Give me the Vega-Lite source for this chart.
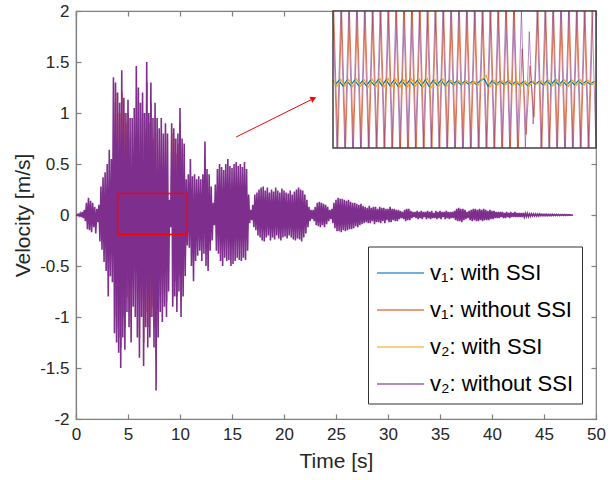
{
"$schema":"https://vega.github.io/schema/vega-lite/v6.json",
"width":520,"height":408,
"autosize":"none",
"padding":{"left":76,"top":11,"right":15,"bottom":61},
"background":"white",
"config":{
"font":"Liberation Sans",
"view":{"stroke":"#7f7f7f","strokeWidth":1.2},
"axis":{"labelFont":"Liberation Sans","labelFontSize":17,"labelColor":"#262626","titleFont":"Liberation Sans","titleFontSize":21,"titleFontWeight":"normal","titleColor":"#262626","domainColor":"#7f7f7f","tickColor":"#7f7f7f","domainWidth":1.2,"tickWidth":1.2,"grid":false,"tickSize":-5,"labelPadding":12,"labelFlush":false},
"legend":{"padding":8,"rowPadding":7,"fillColor":"white","strokeColor":"#333333","labelFontSize":22,"labelColor":"#000000","labelFont":"Liberation Sans","labelOffset":17,"symbolStrokeWidth":1.5,"symbolSize":1225,"labelLimit":0}
},
"datasets":{
"p":[{"t":0,"v":0},{"t":0.1,"v":-0.005},{"t":0.2,"v":0.008},{"t":0.3,"v":-0.01},{"t":0.4,"v":0.015},{"t":0.5,"v":-0.02},{"t":0.6,"v":0.03},{"t":0.7,"v":-0.03},{"t":0.8,"v":0.05},{"t":0.9,"v":-0.06},
{"t":1.0,"v":0.12},{"t":1.1,"v":-0.14},{"t":1.2,"v":0.17},{"t":1.3,"v":-0.15},{"t":1.4,"v":0.14},{"t":1.5,"v":-0.17},{"t":1.6,"v":0.12},{"t":1.7,"v":-0.12},{"t":1.8,"v":0.08},{"t":1.9,"v":-0.18},
{"t":2.0,"v":0.06},{"t":2.1,"v":-0.07},{"t":2.2,"v":0.1},{"t":2.3,"v":-0.26},{"t":2.4,"v":0.28},{"t":2.5,"v":-0.34},{"t":2.6,"v":0.37},{"t":2.7,"v":-0.46},{"t":2.8,"v":0.42},{"t":2.9,"v":-0.55},
{"t":3.0,"v":0.5},{"t":3.1,"v":-0.8},{"t":3.2,"v":0.64},{"t":3.3,"v":-0.6},{"t":3.4,"v":0.55},{"t":3.5,"v":-0.66},{"t":3.6,"v":1.35},{"t":3.7,"v":-1.16},{"t":3.8,"v":1.3},{"t":3.9,"v":-1.25},
{"t":4.0,"v":1.2},{"t":4.1,"v":-1.35},{"t":4.2,"v":1.1},{"t":4.3,"v":-1.5},{"t":4.4,"v":1.42},{"t":4.5,"v":-1.2},{"t":4.6,"v":1.15},{"t":4.7,"v":-1.32},{"t":4.8,"v":1.0},{"t":4.9,"v":-0.95},
{"t":5.0,"v":1.13},{"t":5.1,"v":-1.1},{"t":5.2,"v":0.95},{"t":5.3,"v":-1.25},{"t":5.4,"v":0.95},{"t":5.5,"v":-0.9},{"t":5.6,"v":1.05},{"t":5.7,"v":-1.0},{"t":5.8,"v":1.46},{"t":5.9,"v":-1.2},
{"t":6.0,"v":1.25},{"t":6.1,"v":-1.4},{"t":6.2,"v":1.1},{"t":6.3,"v":-1.0},{"t":6.4,"v":1.2},{"t":6.5,"v":-1.48},{"t":6.6,"v":1.0},{"t":6.7,"v":-1.1},{"t":6.8,"v":1.5},{"t":6.9,"v":-1.3},
{"t":7.0,"v":1.0},{"t":7.1,"v":-1.2},{"t":7.2,"v":1.3},{"t":7.3,"v":-1.0},{"t":7.4,"v":0.95},{"t":7.5,"v":-1.3},{"t":7.6,"v":1.1},{"t":7.7,"v":-1.72},{"t":7.8,"v":0.95},{"t":7.9,"v":-1.2},
{"t":8.0,"v":0.85},{"t":8.1,"v":-0.95},{"t":8.2,"v":0.95},{"t":8.3,"v":-1.05},{"t":8.4,"v":0.8},{"t":8.5,"v":-0.9},{"t":8.6,"v":0.9},{"t":8.7,"v":-1.0},{"t":8.8,"v":0.8},{"t":8.9,"v":-0.75},
{"t":9.0,"v":0.15},{"t":9.1,"v":-0.12},{"t":9.2,"v":0.9},{"t":9.3,"v":-0.9},{"t":9.4,"v":0.85},{"t":9.5,"v":-0.8},{"t":9.6,"v":0.75},{"t":9.7,"v":-0.95},{"t":9.8,"v":0.8},{"t":9.9,"v":-0.75},
{"t":10.0,"v":1.05},{"t":10.1,"v":-1.0},{"t":10.2,"v":0.75},{"t":10.3,"v":-0.8},{"t":10.4,"v":0.7},{"t":10.5,"v":-0.6},{"t":10.6,"v":0.35},{"t":10.7,"v":-0.3},{"t":10.8,"v":0.4},{"t":10.9,"v":-0.32},
{"t":11.0,"v":0.55},{"t":11.1,"v":-0.5},{"t":11.2,"v":0.38},{"t":11.3,"v":-0.65},{"t":11.4,"v":0.4},{"t":11.5,"v":-0.45},{"t":11.6,"v":0.35},{"t":11.7,"v":-0.4},{"t":11.8,"v":0.38},{"t":11.9,"v":-0.35},
{"t":12.0,"v":0.35},{"t":12.1,"v":-0.45},{"t":12.2,"v":0.4},{"t":12.3,"v":-0.38},{"t":12.4,"v":0.72},{"t":12.5,"v":-0.5},{"t":12.6,"v":0.45},{"t":12.7,"v":-0.55},{"t":12.8,"v":0.4},{"t":12.9,"v":-0.35},
{"t":13.0,"v":0.28},{"t":13.1,"v":-0.25},{"t":13.2,"v":0.12},{"t":13.3,"v":-0.1},{"t":13.4,"v":0.3},{"t":13.5,"v":-0.35},{"t":13.6,"v":0.45},{"t":13.7,"v":-0.38},{"t":13.8,"v":0.5},{"t":13.9,"v":-0.45},
{"t":14.0,"v":0.47},{"t":14.1,"v":-0.5},{"t":14.2,"v":0.44},{"t":14.3,"v":-0.42},{"t":14.4,"v":0.5},{"t":14.5,"v":-0.45},{"t":14.6,"v":0.55},{"t":14.7,"v":-0.44},{"t":14.8,"v":0.48},{"t":14.9,"v":-0.5},
{"t":15.0,"v":0.46},{"t":15.1,"v":-0.48},{"t":15.2,"v":0.5},{"t":15.3,"v":-0.45},{"t":15.4,"v":0.52},{"t":15.5,"v":-0.42},{"t":15.6,"v":0.48},{"t":15.7,"v":-0.44},{"t":15.8,"v":0.5},{"t":15.9,"v":-0.45},
{"t":16.0,"v":0.47},{"t":16.1,"v":-0.42},{"t":16.2,"v":0.52},{"t":16.3,"v":-0.44},{"t":16.4,"v":0.45},{"t":16.5,"v":-0.35},{"t":16.6,"v":0.2},{"t":16.7,"v":-0.08},{"t":16.8,"v":0.05},{"t":16.9,"v":-0.05},
{"t":17.0,"v":0.1},{"t":17.1,"v":-0.12},{"t":17.2,"v":0.2},{"t":17.3,"v":-0.15},{"t":17.4,"v":0.22},{"t":17.5,"v":-0.2},{"t":17.6,"v":0.25},{"t":17.7,"v":-0.22},{"t":17.8,"v":0.27},{"t":17.9,"v":-0.25},
{"t":18.0,"v":0.28},{"t":18.1,"v":-0.26},{"t":18.2,"v":0.24},{"t":18.3,"v":-0.22},{"t":18.4,"v":0.27},{"t":18.5,"v":-0.2},{"t":18.6,"v":0.22},{"t":18.7,"v":-0.25},{"t":18.8,"v":0.25},{"t":18.9,"v":-0.22},
{"t":19.0,"v":0.23},{"t":19.1,"v":-0.24},{"t":19.2,"v":0.27},{"t":19.3,"v":-0.2},{"t":19.4,"v":0.24},{"t":19.5,"v":-0.23},{"t":19.6,"v":0.22},{"t":19.7,"v":-0.25},{"t":19.8,"v":0.26},{"t":19.9,"v":-0.22},
{"t":20.0,"v":0.24},{"t":20.1,"v":-0.21},{"t":20.2,"v":0.22},{"t":20.3,"v":-0.23},{"t":20.4,"v":0.21},{"t":20.5,"v":-0.2},{"t":20.6,"v":0.24},{"t":20.7,"v":-0.22},{"t":20.8,"v":0.2},{"t":20.9,"v":-0.24},
{"t":21.0,"v":0.23},{"t":21.1,"v":-0.25},{"t":21.2,"v":0.25},{"t":21.3,"v":-0.23},{"t":21.4,"v":0.27},{"t":21.5,"v":-0.24},{"t":21.6,"v":0.25},{"t":21.7,"v":-0.26},{"t":21.8,"v":0.24},{"t":21.9,"v":-0.22},
{"t":22.0,"v":0.2},{"t":22.1,"v":-0.18},{"t":22.2,"v":0.15},{"t":22.3,"v":-0.12},{"t":22.4,"v":0.08},{"t":22.5,"v":-0.06},{"t":22.6,"v":0.05},{"t":22.7,"v":-0.04},{"t":22.8,"v":0.05},{"t":22.9,"v":-0.06},
{"t":23.0,"v":0.08},{"t":23.1,"v":-0.1},{"t":23.2,"v":0.12},{"t":23.3,"v":-0.11},{"t":23.4,"v":0.13},{"t":23.5,"v":-0.12},{"t":23.6,"v":0.12},{"t":23.7,"v":-0.1},{"t":23.8,"v":0.11},{"t":23.9,"v":-0.12},
{"t":24.0,"v":0.1},{"t":24.1,"v":-0.09},{"t":24.2,"v":0.08},{"t":24.3,"v":-0.06},{"t":24.4,"v":0.05},{"t":24.5,"v":-0.04},{"t":24.6,"v":0.06},{"t":24.7,"v":-0.08},{"t":24.8,"v":0.12},{"t":24.9,"v":-0.13},
{"t":25.0,"v":0.15},{"t":25.1,"v":-0.16},{"t":25.2,"v":0.17},{"t":25.3,"v":-0.16},{"t":25.4,"v":0.16},{"t":25.5,"v":-0.17},{"t":25.6,"v":0.16},{"t":25.7,"v":-0.15},{"t":25.8,"v":0.15},{"t":25.9,"v":-0.16},
{"t":26.0,"v":0.14},{"t":26.1,"v":-0.15},{"t":26.2,"v":0.15},{"t":26.3,"v":-0.14},{"t":26.4,"v":0.13},{"t":26.5,"v":-0.14},{"t":26.6,"v":0.12},{"t":26.7,"v":-0.13},{"t":26.8,"v":0.12},{"t":26.9,"v":-0.11},
{"t":27.0,"v":0.11},{"t":27.1,"v":-0.12},{"t":27.2,"v":0.1},{"t":27.3,"v":-0.1},{"t":27.4,"v":0.11},{"t":27.5,"v":-0.09},{"t":27.6,"v":0.09},{"t":27.7,"v":-0.08},{"t":27.8,"v":0.08},{"t":27.9,"v":-0.07},
{"t":28.0,"v":0.07},{"t":28.1,"v":-0.08},{"t":28.2,"v":0.09},{"t":28.3,"v":-0.08},{"t":28.4,"v":0.07},{"t":28.5,"v":-0.06},{"t":28.6,"v":0.08},{"t":28.7,"v":-0.09},{"t":28.8,"v":0.08},{"t":28.9,"v":-0.07},
{"t":29.0,"v":0.06},{"t":29.1,"v":-0.07},{"t":29.2,"v":0.08},{"t":29.3,"v":-0.08},{"t":29.4,"v":0.07},{"t":29.5,"v":-0.06},{"t":29.6,"v":0.07},{"t":29.7,"v":-0.08},{"t":29.8,"v":0.06},{"t":29.9,"v":-0.05},
{"t":30.0,"v":0.06},{"t":30.1,"v":-0.07},{"t":30.2,"v":0.08},{"t":30.3,"v":-0.07},{"t":30.4,"v":0.06},{"t":30.5,"v":-0.05},{"t":30.6,"v":0.06},{"t":30.7,"v":-0.06},{"t":30.8,"v":0.05},{"t":30.9,"v":-0.06},
{"t":31.0,"v":0.05},{"t":31.1,"v":-0.04},{"t":31.2,"v":0.04},{"t":31.3,"v":-0.03},{"t":31.4,"v":0.03},{"t":31.5,"v":-0.04},{"t":31.6,"v":0.05},{"t":31.7,"v":-0.06},{"t":31.8,"v":0.06},{"t":31.9,"v":-0.05},
{"t":32.0,"v":0.06},{"t":32.1,"v":-0.05},{"t":32.2,"v":0.04},{"t":32.3,"v":-0.03},{"t":32.4,"v":0.03},{"t":32.5,"v":-0.02},{"t":32.6,"v":0.03},{"t":32.7,"v":-0.03},{"t":32.8,"v":0.04},{"t":32.9,"v":-0.04},
{"t":33.0,"v":0.03},{"t":33.1,"v":-0.03},{"t":33.2,"v":0.04},{"t":33.3,"v":-0.04},{"t":33.4,"v":0.03},{"t":33.5,"v":-0.02},{"t":33.6,"v":0.03},{"t":33.7,"v":-0.04},{"t":33.8,"v":0.04},{"t":33.9,"v":-0.03},
{"t":34.0,"v":0.03},{"t":34.1,"v":-0.04},{"t":34.2,"v":0.04},{"t":34.3,"v":-0.03},{"t":34.4,"v":0.02},{"t":34.5,"v":-0.03},{"t":34.6,"v":0.04},{"t":34.7,"v":-0.04},{"t":34.8,"v":0.03},{"t":34.9,"v":-0.03},
{"t":35.0,"v":0.04},{"t":35.1,"v":-0.04},{"t":35.2,"v":0.03},{"t":35.3,"v":-0.02},{"t":35.4,"v":0.03},{"t":35.5,"v":-0.04},{"t":35.6,"v":0.04},{"t":35.7,"v":-0.03},{"t":35.8,"v":0.03},{"t":35.9,"v":-0.04},
{"t":36.0,"v":0.03},{"t":36.1,"v":-0.03},{"t":36.2,"v":0.03},{"t":36.3,"v":-0.03},{"t":36.4,"v":0.04},{"t":36.5,"v":-0.05},{"t":36.6,"v":0.06},{"t":36.7,"v":-0.06},{"t":36.8,"v":0.07},{"t":36.9,"v":-0.06},
{"t":37.0,"v":0.06},{"t":37.1,"v":-0.07},{"t":37.2,"v":0.06},{"t":37.3,"v":-0.05},{"t":37.4,"v":0.05},{"t":37.5,"v":-0.04},{"t":37.6,"v":0.03},{"t":37.7,"v":-0.03},{"t":37.8,"v":0.04},{"t":37.9,"v":-0.05},
{"t":38.0,"v":0.05},{"t":38.1,"v":-0.06},{"t":38.2,"v":0.06},{"t":38.3,"v":-0.05},{"t":38.4,"v":0.06},{"t":38.5,"v":-0.06},{"t":38.6,"v":0.05},{"t":38.7,"v":-0.06},{"t":38.8,"v":0.06},{"t":38.9,"v":-0.05},
{"t":39.0,"v":0.05},{"t":39.1,"v":-0.06},{"t":39.2,"v":0.06},{"t":39.3,"v":-0.05},{"t":39.4,"v":0.05},{"t":39.5,"v":-0.05},{"t":39.6,"v":0.04},{"t":39.7,"v":-0.05},{"t":39.8,"v":0.05},{"t":39.9,"v":-0.04},
{"t":40.0,"v":0.04},{"t":40.1,"v":-0.04},{"t":40.2,"v":0.04},{"t":40.3,"v":-0.03},{"t":40.4,"v":0.03},{"t":40.5,"v":-0.03},{"t":40.6,"v":0.03},{"t":40.7,"v":-0.03},{"t":40.8,"v":0.03},{"t":40.9,"v":-0.02},
{"t":41.0,"v":0.03},{"t":41.1,"v":-0.03},{"t":41.2,"v":0.02},{"t":41.3,"v":-0.03},{"t":41.4,"v":0.03},{"t":41.5,"v":-0.02},{"t":41.6,"v":0.02},{"t":41.7,"v":-0.03},{"t":41.8,"v":0.03},{"t":41.9,"v":-0.02},
{"t":42.0,"v":0.02},{"t":42.1,"v":-0.02},{"t":42.2,"v":0.03},{"t":42.3,"v":-0.02},{"t":42.4,"v":0.02},{"t":42.5,"v":-0.02},{"t":42.6,"v":0.02},{"t":42.7,"v":-0.02},{"t":42.8,"v":0.02},{"t":42.9,"v":-0.02},
{"t":43.0,"v":0.02},{"t":43.1,"v":-0.02},{"t":43.2,"v":0.015},{"t":43.3,"v":-0.015},{"t":43.4,"v":0.015},{"t":43.5,"v":-0.015},{"t":43.6,"v":0.012},{"t":43.7,"v":-0.012},{"t":43.8,"v":0.012},{"t":43.9,"v":-0.01},
{"t":44.0,"v":0.01},{"t":44.1,"v":-0.01},{"t":44.2,"v":0.01},{"t":44.3,"v":-0.01},{"t":44.4,"v":0.01},{"t":44.5,"v":-0.01},{"t":44.6,"v":0.01},{"t":44.7,"v":-0.008},{"t":44.8,"v":0.008},{"t":44.9,"v":-0.008},
{"t":45.0,"v":0.008},{"t":45.1,"v":-0.008},{"t":45.2,"v":0.008},{"t":45.3,"v":-0.008},{"t":45.4,"v":0.007},{"t":45.5,"v":-0.007},{"t":45.6,"v":0.007},{"t":45.7,"v":-0.007},{"t":45.8,"v":0.006},{"t":45.9,"v":-0.006},
{"t":46.0,"v":0.006},{"t":46.1,"v":-0.006},{"t":46.2,"v":0.005},{"t":46.3,"v":-0.005},{"t":46.4,"v":0.005},{"t":46.5,"v":-0.005},{"t":46.6,"v":0.005},{"t":46.7,"v":-0.004},{"t":46.8,"v":0.004},{"t":46.9,"v":-0.004},
{"t":47.0,"v":0.004},{"t":47.1,"v":-0.004},{"t":47.2,"v":0.003},{"t":47.3,"v":-0.003},{"t":47.4,"v":0.003},{"t":47.5,"v":-0.003},{"t":47.6,"v":0.002},{"t":47.7,"v":-0.002},{"t":47.8,"v":0}],
"o":[{"t":3.52,"v":-0.6},{"t":3.62,"v":1.1},{"t":3.72,"v":-1.0},{"t":3.82,"v":1.2},{"t":3.92,"v":-1.1},{"t":4.02,"v":1.0},{"t":4.12,"v":-1.2},{"t":4.22,"v":1.0},{"t":4.32,"v":-1.3},{"t":4.42,"v":1.2},
{"t":4.52,"v":-1.0},{"t":4.62,"v":1.0},{"t":4.72,"v":-1.1},{"t":4.82,"v":0.9},{"t":4.92,"v":-0.8},{"t":5.02,"v":1.0},{"t":5.12,"v":-0.95},{"t":5.22,"v":0.75},{"t":5.32,"v":-1.05},{"t":5.42,"v":0.8},
{"t":5.52,"v":-0.7},{"t":5.62,"v":0.9},{"t":5.72,"v":-0.9},{"t":5.82,"v":1.2},{"t":5.92,"v":-1.0},{"t":6.02,"v":1.1},{"t":6.12,"v":-1.2},{"t":6.22,"v":0.95},{"t":6.32,"v":-0.85},{"t":6.42,"v":1.0},
{"t":6.52,"v":-1.25},{"t":6.62,"v":0.8},{"t":6.72,"v":-0.95},{"t":6.82,"v":1.3},{"t":6.92,"v":-1.1},{"t":7.02,"v":0.9},{"t":7.12,"v":-1.0},{"t":7.22,"v":1.1},{"t":7.32,"v":-0.9},{"t":7.42,"v":0.75},
{"t":7.52,"v":-1.1},{"t":7.62,"v":0.95},{"t":7.72,"v":-1.4},{"t":7.82,"v":0.8},{"t":7.92,"v":-1.0},{"t":8.02,"v":0.65},{"t":8.12,"v":-0.8},{"t":8.22,"v":0.8},{"t":8.32,"v":-0.9},{"t":8.42,"v":0.6},
{"t":8.52,"v":-0.75},{"t":8.62,"v":0.8},{"t":8.72,"v":-0.85},{"t":8.82,"v":0.1},{"t":8.92,"v":-0.15},{"t":9.02,"v":0.05},{"t":9.12,"v":-0.1},{"t":9.22,"v":0.8},{"t":9.32,"v":-0.8},{"t":9.42,"v":0.75},
{"t":9.52,"v":-0.65},{"t":9.62,"v":0.6},{"t":9.72,"v":-0.8},{"t":9.82,"v":0.7},{"t":9.92,"v":-0.6},{"t":10.02,"v":0.9},{"t":10.12,"v":-0.85},{"t":10.22,"v":0.65},{"t":10.32,"v":-0.7},{"t":10.42,"v":0.6},
{"t":10.52,"v":-0.5},{"t":10.62,"v":0.3},{"t":10.72,"v":-0.25},{"t":10.82,"v":0.3},{"t":10.92,"v":-0.25}],
"y":[{"t":4.0,"v":0.008},{"t":4.1,"v":-0.01},{"t":4.2,"v":0.011},{"t":4.3,"v":-0.009},{"t":4.4,"v":0.01},{"t":4.5,"v":-0.011},{"t":4.6,"v":0.012},{"t":4.7,"v":-0.01},{"t":4.8,"v":0.009},{"t":4.9,"v":-0.012},
{"t":5.0,"v":0.011},{"t":5.1,"v":-0.01},{"t":5.2,"v":0.013},{"t":5.3,"v":-0.012},{"t":5.4,"v":0.014},{"t":5.5,"v":-0.011},{"t":5.6,"v":0.012},{"t":5.7,"v":-0.013},{"t":5.8,"v":0.01},{"t":5.9,"v":-0.011},
{"t":6.0,"v":0.012},{"t":6.1,"v":-0.01},{"t":6.2,"v":0.011},{"t":6.3,"v":-0.012},{"t":6.4,"v":0.013},{"t":6.5,"v":-0.014},{"t":6.6,"v":0.01},{"t":6.7,"v":-0.009},{"t":6.8,"v":0.012},{"t":6.9,"v":-0.01},
{"t":7.0,"v":0.008},{"t":7.1,"v":-0.006},{"t":7.2,"v":0.007},{"t":7.3,"v":-0.005},{"t":7.4,"v":0.006},{"t":7.5,"v":-0.004},{"t":7.6,"v":0.005},{"t":7.7,"v":-0.006},{"t":7.8,"v":0.01},{"t":7.9,"v":0.022},
{"t":8.0,"v":-0.012},{"t":8.1,"v":0.008},{"t":8.2,"v":-0.006},{"t":8.3,"v":0.006},{"t":8.4,"v":-0.005},{"t":8.5,"v":0.007},{"t":8.6,"v":-0.006},{"t":8.7,"v":0.004},{"t":8.8,"v":-0.008},{"t":8.9,"v":0.006},
{"t":9.0,"v":-0.01},{"t":9.1,"v":0.005},{"t":9.2,"v":-0.004},{"t":9.3,"v":0.006},{"t":9.4,"v":-0.007},{"t":9.5,"v":0.008},{"t":9.6,"v":-0.009},{"t":9.7,"v":0.01},{"t":9.8,"v":-0.008},{"t":9.9,"v":0.009},
{"t":10.0,"v":-0.01},{"t":10.1,"v":0.008},{"t":10.2,"v":-0.007},{"t":10.3,"v":0.009},{"t":10.4,"v":-0.006},{"t":10.5,"v":0.007},{"t":10.6,"v":-0.006},{"t":10.7,"v":0.005}],
"b":[{"t":4.05,"v":-0.006},{"t":4.15,"v":0.007},{"t":4.25,"v":-0.008},{"t":4.35,"v":0.006},{"t":4.45,"v":-0.007},{"t":4.55,"v":0.008},{"t":4.65,"v":-0.007},{"t":4.75,"v":0.006},{"t":4.85,"v":-0.008},{"t":4.95,"v":0.007},
{"t":5.05,"v":-0.007},{"t":5.15,"v":0.009},{"t":5.25,"v":-0.008},{"t":5.35,"v":0.009},{"t":5.45,"v":-0.008},{"t":5.55,"v":0.008},{"t":5.65,"v":-0.009},{"t":5.75,"v":0.007},{"t":5.85,"v":-0.008},{"t":5.95,"v":0.008},
{"t":6.05,"v":-0.007},{"t":6.15,"v":0.008},{"t":6.25,"v":-0.009},{"t":6.35,"v":0.009},{"t":6.45,"v":-0.01},{"t":6.55,"v":0.007},{"t":6.65,"v":-0.006},{"t":6.75,"v":0.008},{"t":6.85,"v":-0.007},{"t":6.95,"v":0.006},
{"t":7.05,"v":-0.004},{"t":7.15,"v":0.005},{"t":7.25,"v":-0.004},{"t":7.35,"v":0.004},{"t":7.45,"v":-0.003},{"t":7.55,"v":0.004},{"t":7.65,"v":-0.004},{"t":7.75,"v":0.006},{"t":7.85,"v":0.012},{"t":7.95,"v":-0.01},
{"t":8.05,"v":0.006},{"t":8.15,"v":-0.004},{"t":8.25,"v":0.004},{"t":8.35,"v":-0.004},{"t":8.45,"v":0.005},{"t":8.55,"v":-0.004},{"t":8.65,"v":0.003},{"t":8.75,"v":-0.006},{"t":8.85,"v":0.004},{"t":8.95,"v":-0.007},
{"t":9.05,"v":0.004},{"t":9.15,"v":-0.003},{"t":9.25,"v":0.004},{"t":9.35,"v":-0.005},{"t":9.45,"v":0.006},{"t":9.55,"v":-0.006},{"t":9.65,"v":0.007},{"t":9.75,"v":-0.006},{"t":9.85,"v":0.006},{"t":9.95,"v":-0.007},
{"t":10.05,"v":0.006},{"t":10.15,"v":-0.005},{"t":10.25,"v":0.006},{"t":10.35,"v":-0.004},{"t":10.45,"v":0.005},{"t":10.55,"v":-0.004},{"t":10.65,"v":0.004}]
},
"resolve":{"scale":{"x":"independent","y":"independent"}},
"layer":[
{"layer":[
{"data":{"name":"b"},"mark":{"type":"line","strokeWidth":1},
"encoding":{"x":{"field":"t","type":"quantitative","scale":{"domain":[0,50],"nice":false,"zero":false},"axis":null},"y":{"field":"v","type":"quantitative","scale":{"domain":[-2,2],"nice":false},"axis":null},
"color":{"datum":"v\u2081: with SSI","type":"nominal","scale":{"domain":["v\u2081: with SSI","v\u2081: without SSI","v\u2082: with SSI","v\u2082: without SSI"],"range":["#0072BD","#D95319","#EDB120","#7E2F8E"]},"legend":{"orient":"none","legendX":292,"legendY":235.5,"title":null,"symbolType":"M-1,0H1.69"}}}},
{"data":{"name":"o"},"mark":{"type":"line","strokeWidth":1},
"encoding":{"x":{"field":"t","type":"quantitative","axis":null},"y":{"field":"v","type":"quantitative","axis":null},
"color":{"datum":"v\u2081: without SSI","type":"nominal","scale":{"domain":["v\u2081: with SSI","v\u2081: without SSI","v\u2082: with SSI","v\u2082: without SSI"],"range":["#0072BD","#D95319","#EDB120","#7E2F8E"]},"legend":{"orient":"none","legendX":292,"legendY":235.5,"title":null,"symbolType":"M-1,0H1.69"}}}},
{"data":{"name":"y"},"mark":{"type":"line","strokeWidth":1},
"encoding":{"x":{"field":"t","type":"quantitative","axis":null},"y":{"field":"v","type":"quantitative","axis":null},
"color":{"datum":"v\u2082: with SSI","type":"nominal","scale":{"domain":["v\u2081: with SSI","v\u2081: without SSI","v\u2082: with SSI","v\u2082: without SSI"],"range":["#0072BD","#D95319","#EDB120","#7E2F8E"]},"legend":{"orient":"none","legendX":292,"legendY":235.5,"title":null,"symbolType":"M-1,0H1.69"}}}},
{"data":{"name":"p"},"mark":{"type":"line","strokeWidth":1.6},
"encoding":{"x":{"field":"t","type":"quantitative","axis":{"orient":"bottom","values":[0,5,10,15,20,25,30,35,40,45,50],"title":"Time [s]","titlePadding":8}},
"y":{"field":"v","type":"quantitative","axis":{"orient":"left","values":[-2,-1.5,-1,-0.5,0,0.5,1,1.5,2],"title":"Velocity [m/s]","titlePadding":6,"labelExpr":"replace(format(datum.value,'~g'),'\u2212','-')"}},
"color":{"datum":"v\u2082: without SSI","type":"nominal","scale":{"domain":["v\u2081: with SSI","v\u2081: without SSI","v\u2082: with SSI","v\u2082: without SSI"],"range":["#0072BD","#D95319","#EDB120","#7E2F8E"]},"legend":{"orient":"none","legendX":292,"legendY":235.5,"title":null,"symbolType":"M-1,0H1.69"}}}},
{"data":{"values":[{}]},"mark":{"type":"rect","fill":null,"fillOpacity":0,"stroke":"#ff0000","strokeWidth":1.5},
"encoding":{"x":{"datum":4.0,"type":"quantitative","axis":{"orient":"top","values":[0,5,10,15,20,25,30,35,40,45,50],"labels":false,"title":null,"domain":false}},"x2":{"datum":10.7},
"y":{"datum":-0.19,"type":"quantitative","axis":{"orient":"right","values":[-2,-1.5,-1,-0.5,0,0.5,1,1.5,2],"labels":false,"title":null,"domain":false}},"y2":{"datum":0.21}}},
{"data":{"values":[{}]},"mark":{"type":"rule","color":"#ff0000","strokeWidth":1},
"encoding":{"x":{"datum":15.4,"type":"quantitative","axis":null},"y":{"datum":0.765,"type":"quantitative","axis":null},"x2":{"datum":22.84},"y2":{"datum":1.142}}},
{"data":{"values":[{}]},"mark":{"type":"point","shape":"triangle-up","angle":64,"size":45,"filled":true,"color":"#ff0000","opacity":1},
"encoding":{"x":{"datum":22.84,"type":"quantitative","axis":null},"y":{"datum":1.142,"type":"quantitative","axis":null}}}
]},
{"layer":[
{"data":{"values":[{}]},"mark":{"type":"rect","fill":"white","stroke":null},
"encoding":{"x":{"datum":4.0,"type":"quantitative","scale":{"domain":[4.0,10.7],"range":[257,520],"clamp":true,"nice":false,"zero":false},"axis":null},"x2":{"datum":10.7},
"y":{"datum":-0.19,"type":"quantitative","scale":{"domain":[-0.19,0.21],"range":[137,0],"clamp":true,"nice":false,"zero":false},"axis":null},"y2":{"datum":0.21}}},
{"data":{"name":"o"},"transform":[{"filter":"datum.t >= 4.0 && datum.t <= 10.7"}],"mark":{"type":"line","strokeWidth":1,"opacity":0.75},
"encoding":{"x":{"field":"t","type":"quantitative","axis":null},"y":{"field":"v","type":"quantitative","axis":null},
"color":{"datum":"v\u2081: without SSI","type":"nominal","scale":{"domain":["v\u2081: with SSI","v\u2081: without SSI","v\u2082: with SSI","v\u2082: without SSI"],"range":["#0072BD","#D95319","#EDB120","#7E2F8E"]},"legend":{"orient":"none","legendX":292,"legendY":235.5,"title":null,"symbolType":"M-1,0H1.69"}}}},
{"data":{"name":"p"},"transform":[{"filter":"datum.t >= 4.0 && datum.t <= 10.7"}],"mark":{"type":"line","strokeWidth":1,"opacity":0.55},
"encoding":{"x":{"field":"t","type":"quantitative","axis":null},"y":{"field":"v","type":"quantitative","axis":null},
"color":{"datum":"v\u2082: without SSI","type":"nominal","scale":{"domain":["v\u2081: with SSI","v\u2081: without SSI","v\u2082: with SSI","v\u2082: without SSI"],"range":["#0072BD","#D95319","#EDB120","#7E2F8E"]},"legend":{"orient":"none","legendX":292,"legendY":235.5,"title":null,"symbolType":"M-1,0H1.69"}}}},
{"data":{"name":"b"},"mark":{"type":"line","strokeWidth":1.2},
"encoding":{"x":{"field":"t","type":"quantitative","axis":null},"y":{"field":"v","type":"quantitative","axis":null},
"color":{"datum":"v\u2081: with SSI","type":"nominal","scale":{"domain":["v\u2081: with SSI","v\u2081: without SSI","v\u2082: with SSI","v\u2082: without SSI"],"range":["#0072BD","#D95319","#EDB120","#7E2F8E"]},"legend":{"orient":"none","legendX":292,"legendY":235.5,"title":null,"symbolType":"M-1,0H1.69"}}}},
{"data":{"name":"y"},"mark":{"type":"line","strokeWidth":1.2},
"encoding":{"x":{"field":"t","type":"quantitative","axis":null},"y":{"field":"v","type":"quantitative","axis":null},
"color":{"datum":"v\u2082: with SSI","type":"nominal","scale":{"domain":["v\u2081: with SSI","v\u2081: without SSI","v\u2082: with SSI","v\u2082: without SSI"],"range":["#0072BD","#D95319","#EDB120","#7E2F8E"]},"legend":{"orient":"none","legendX":292,"legendY":235.5,"title":null,"symbolType":"M-1,0H1.69"}}}},
{"data":{"values":[{}]},"mark":{"type":"rect","fill":null,"fillOpacity":0,"stroke":"#404040","strokeWidth":1.5},
"encoding":{"x":{"datum":4.0,"type":"quantitative","axis":null},"x2":{"datum":10.7},"y":{"datum":-0.19,"type":"quantitative","axis":null},"y2":{"datum":0.21}}}
]}
]
}
